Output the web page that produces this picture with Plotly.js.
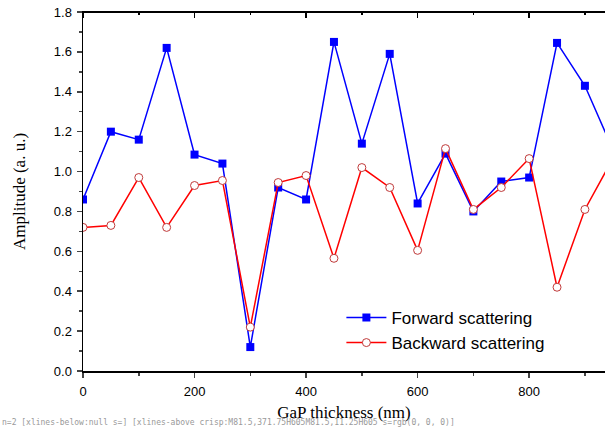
<!DOCTYPE html>
<html>
<head>
<meta charset="utf-8">
<script src="https://cdn.plot.ly/plotly-3.0.1.min.js"></script>
<style>html,body{margin:0;padding:0;background:#fff;}#wrap{position:relative;width:605px;height:427px;}#chart{width:605px;height:427px;}#dbg{position:absolute;left:2px;top:418px;font:8px monospace;color:#999;white-space:nowrap;}</style>
</head>
<body>
<div id="wrap"><div id="chart"></div><div id="dbg"></div></div>
<script>
var thickness = [0, 50, 100, 150, 200, 250, 300, 350, 400, 450, 500, 550, 600, 650, 700, 750, 800, 850, 900, 950];
var forward = [0.86, 1.20, 1.16, 1.62, 1.085, 1.04, 0.12, 0.92, 0.86, 1.65, 1.14, 1.59, 0.84, 1.09, 0.80, 0.95, 0.97, 1.645, 1.43, 1.11];
var backward = [0.72, 0.73, 0.97, 0.72, 0.93, 0.955, 0.22, 0.945, 0.98, 0.565, 1.02, 0.92, 0.605, 1.115, 0.81, 0.92, 1.065, 0.42, 0.81, 1.065];
var seriesNames = ["Forward scattering", "Backward scattering"];

var xRange = [0, 936];
var sans = "Arial, 'Liberation Sans', sans-serif";
var serif = "'Times New Roman', 'Liberation Serif', serif";

var traces = [
  {x: thickness, y: forward, name: seriesNames[0], mode: "lines+markers", type: "scatter",
   line: {color: "#0000ff", width: 1.5},
   marker: {symbol: "square", size: 8, color: "#0000ff", line: {width: 0}}, cliponaxis: true},
  {x: thickness, y: backward, name: seriesNames[1], mode: "lines+markers", type: "scatter",
   line: {color: "#ff0000", width: 1.5},
   marker: {symbol: "circle", size: 8, color: "#ffffff", line: {color: "#c03a3a", width: 1}}, cliponaxis: true}
];

var layout = {
  width: 605, height: 427,
  margin: {l: 83, r: 0, t: 12, b: 56, autoexpand: false},
  paper_bgcolor: "#fff", plot_bgcolor: "#fff",
  showlegend: true,
  legend: {x: 0.495, y: 0.198, xanchor: "left", yanchor: "top", bgcolor: "rgba(0,0,0,0)",
           font: {family: sans, size: 17, color: "#000"}, tracegroupgap: 0, itemwidth: 40},
  xaxis: {range: xRange, dtick: 200, tick0: 0, ticks: "outside", ticklen: 5, tickwidth: 1.5,
          showline: true, linewidth: 1.5, linecolor: "#000", showgrid: false, zeroline: false,
          mirror: true,
          tickfont: {family: sans, size: 13, color: "#000"}, ticklabelstandoff: 3,
          minor: {dtick: 100, ticks: "outside", ticklen: 3, tickwidth: 1.5, showgrid: false},
          title: {text: "GaP thickness (nm)", font: {family: serif, size: 17, color: "#000"}, standoff: 8}},
  yaxis: {range: [0, 1.8], dtick: 0.2, tick0: 0, tickformat: ".1f", ticks: "outside", ticklen: 5, tickwidth: 1.5,
          showline: true, linewidth: 1.5, linecolor: "#000", showgrid: false, zeroline: false,
          tickfont: {family: sans, size: 13, color: "#000"}, ticklabelstandoff: 2,
          minor: {dtick: 0.1, ticks: "outside", ticklen: 3, tickwidth: 1.5, showgrid: false},
          title: {text: "Amplitude (a. u.)", font: {family: serif, size: 17, color: "#000"}, standoff: 24}}
};

Plotly.newPlot("chart", traces, layout, {staticPlot: true, displayModeBar: false}).then(function (gd) {
  var xa = gd._fullLayout.xaxis, ya = gd._fullLayout.yaxis;
  // top frame of the plot area with inward ticks, drawn as an SVG overlay on the axis scale
  var svgNS = "http://www.w3.org/2000/svg";
  var svg = document.createElementNS(svgNS, "svg");
  svg.setAttribute("width", 605); svg.setAttribute("height", 427);
  svg.style.cssText = "position:absolute;left:0;top:0;pointer-events:none;";
  var top = ya._offset;
  var d = "M" + xa._offset + "," + top + "H" + (xa._offset + xa._length);
  for (var v = 0; v <= xRange[1]; v += 100) {
    var px = xa._offset + xa.l2p(v);
    d += "M" + px + "," + top + "v" + (v % 200 === 0 ? 6 : 3);
  }
  var p = document.createElementNS(svgNS, "path");
  p.setAttribute("d", d); p.setAttribute("stroke", "#000"); p.setAttribute("stroke-width", "1.5"); p.setAttribute("fill", "none");
  p.setAttribute("shape-rendering", "crispEdges");
  svg.appendChild(p);
  document.getElementById("wrap").appendChild(svg);
  var lines = gd.querySelectorAll("path.xlines-above, path.xlines-below");
  var info = "n=" + lines.length;
  lines.forEach(function (l) { info += " [" + l.getAttribute("class") + ":" + l.getAttribute("d") + " s=" + l.style.stroke + "]"; });
  document.getElementById("dbg").textContent = info;
});
</script>
</body>
</html>
